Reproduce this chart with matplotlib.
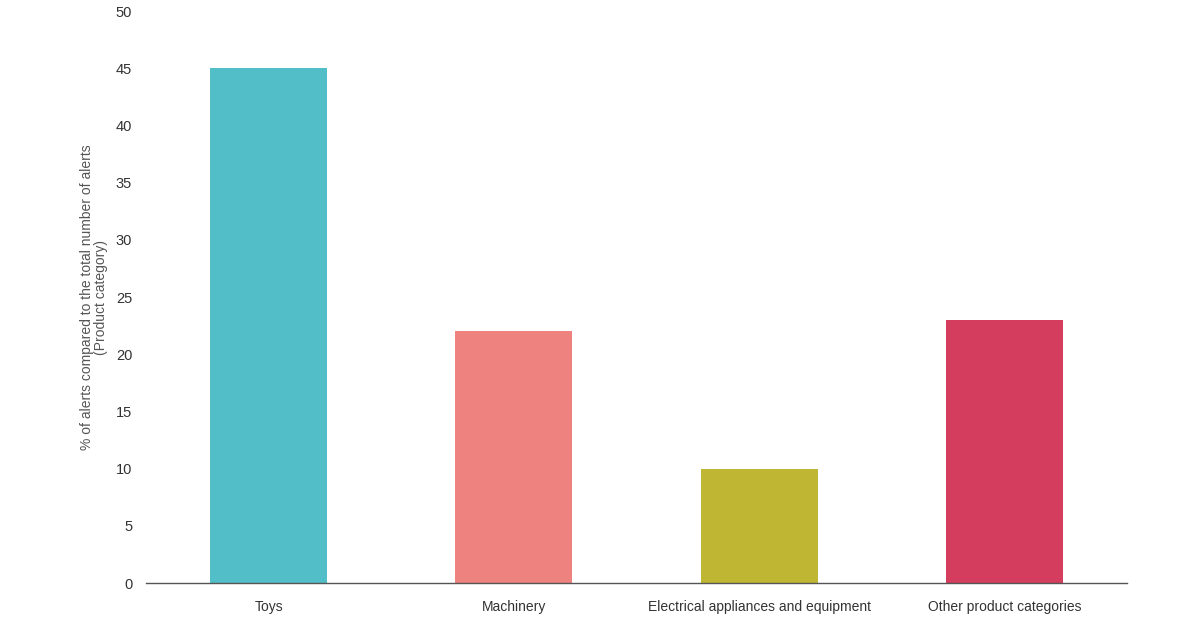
import matplotlib.pyplot as plt

categories = ['Toys', 'Machinery', 'Electrical appliances and equipment', 'Other product categories']
values = [45, 22, 10, 23]
colors = ['#52bec7', '#ee827e', '#bfb733', '#d43d5e']

plt.rcParams['font.family'] = ['Liberation Sans', 'DejaVu Sans']

fig = plt.figure(figsize=(12, 6.3), dpi=100)
ax = fig.add_axes([0.1217, 0.0746, 0.8175, 0.9079])

ax.bar(range(len(categories)), values, width=0.477, color=colors)

ax.set_xlim(-0.5, len(categories) - 0.5)
ax.set_ylim(0, 50)
ax.set_yticks(range(0, 51, 5))
ax.set_xticks(range(len(categories)))
ax.set_xticklabels(categories)
ax.tick_params(axis='both', length=0, colors='#333333')
ax.tick_params(axis='x', pad=12, labelsize=10)
ax.tick_params(axis='y', pad=10, labelsize=10.5)

ax.set_ylabel('% of alerts compared to the total number of alerts\n(Product category)',
              fontsize=10, color='#555555', linespacing=1.0)
ax.yaxis.set_label_coords(-0.039, 0.5)

for side in ['top', 'right', 'left']:
    ax.spines[side].set_visible(False)
ax.spines['bottom'].set_color('#555555')
ax.spines['bottom'].set_linewidth(1)

plt.savefig('out.png', dpi=100)
